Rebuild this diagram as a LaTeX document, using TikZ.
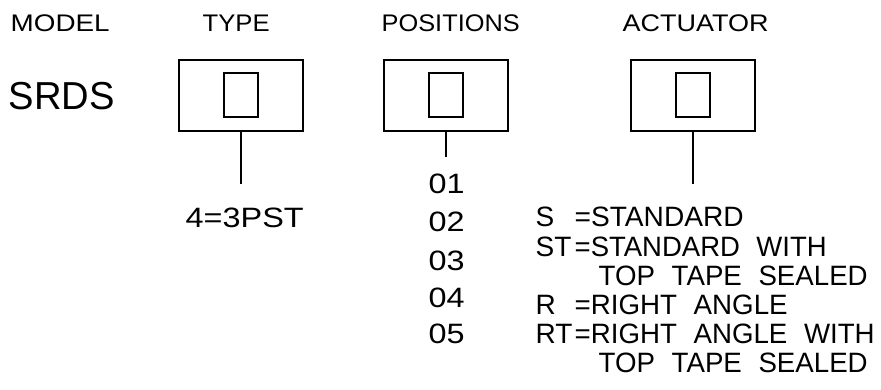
\documentclass[tikz,border=0pt]{standalone}
\usepackage{fontspec}
\setmainfont{Liberation Sans}
\newlength\fitlen
\newcommand\fitw[2]{\settowidth\fitlen{#2}\scalebox{\fpeval{#1/\fitlen}}[1]{#2}}
\newcommand\ws{\hspace{0.6em}}
\tikzset{
  outerbox/.style={draw, line width=1.2pt, minimum width=124pt, minimum height=71pt, inner sep=0pt},
  innerbox/.style={draw, line width=1.2pt, minimum width=34pt, minimum height=44pt, inner sep=0pt},
  conn/.style={line width=1.2pt},
  hdr/.style={font=\fontsize{24}{28}\selectfont, anchor=base west, inner sep=0pt},
  big/.style={font=\fontsize{39}{44}\selectfont, anchor=base west, inner sep=0pt},
  lbl/.style={font=\fontsize{28}{32}\selectfont, anchor=base west, inner sep=0pt}
}
\begin{document}
\begin{tikzpicture}[x=1pt, y=-1pt]
\useasboundingbox (0,0) rectangle (881,390);
% headers
\node[hdr] (model) at (10.5,32) {\fitw{99}{MODEL}};
\node[hdr] (type) at (202.5,32) {\fitw{67}{TYPE}};
\node[hdr] (pos) at (381.5,32) {\fitw{138}{POSITIONS}};
\node[hdr] (act) at (622.5,32) {\fitw{146}{ACTUATOR}};
\node[big] (srds) at (8.5,110) {\fitw{106}{SRDS}};
% boxes
\node[outerbox] (typebox) at (241,95.5) {};
\node[innerbox] (typein) at (241,95) {};
\node[outerbox] (posbox) at (446,95.5) {};
\node[innerbox] (posin) at (446,95) {};
\node[outerbox] (actbox) at (693,95.5) {};
\node[innerbox] (actin) at (693,95) {};
% connectors
\coordinate (typeend) at (241,184);
\coordinate (posend) at (446,157);
\coordinate (actend) at (693,184);
\draw[conn] (typebox.south) -- (typeend);
\draw[conn] (posbox.south) -- (posend);
\draw[conn] (actbox.south) -- (actend);
% type option
\node[lbl] (typeopt) at (185.5,228) {\fitw{118}{4=3PST}};
% positions
\node[lbl] (p1) at (428.5,194) {\fitw{36}{01}};
\node[lbl] (p2) at (428.5,232) {\fitw{36}{02}};
\node[lbl] (p3) at (428.5,270) {\fitw{36}{03}};
\node[lbl] (p4) at (428.5,307) {\fitw{36}{04}};
\node[lbl] (p5) at (428.5,343) {\fitw{36}{05}};
% actuator options
\node[lbl] (aS) at (535.5,227) {S};
\node[lbl] (aSt) at (574.5,227) {\fitw{169}{=STANDARD}};
\node[lbl] (aST) at (535.5,256) {ST};
\node[lbl] (aSTt) at (574.5,256) {\fitw{252}{=STANDARD\ws WITH}};
\node[lbl] (aSTt2) at (598.5,285) {\fitw{269}{TOP\ws TAPE\ws SEALED}};
\node[lbl] (aR) at (535.5,314) {R};
\node[lbl] (aRt) at (574.5,314) {\fitw{213}{=RIGHT\ws ANGLE}};
\node[lbl] (aRT) at (535.5,343) {RT};
\node[lbl] (aRTt) at (574.5,343) {\fitw{300}{=RIGHT\ws ANGLE\ws WITH}};
\node[lbl] (aRTt2) at (598.5,372) {\fitw{269}{TOP\ws TAPE\ws SEALED}};
\end{tikzpicture}
\end{document}
